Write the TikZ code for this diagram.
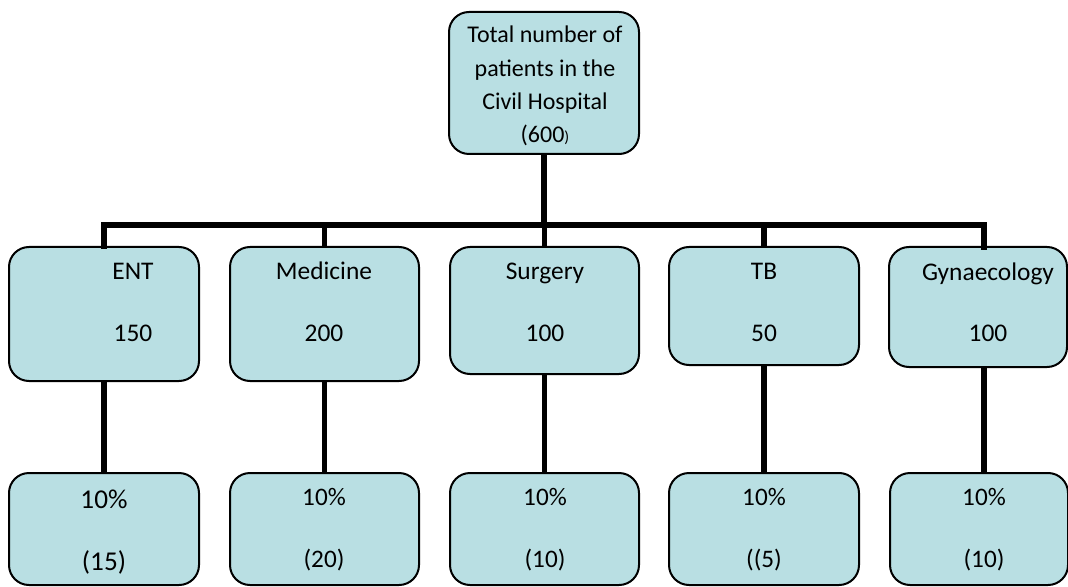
\documentclass[tikz,border=0pt]{standalone}
\usepackage{fontspec}
\setmainfont{Carlito}
\definecolor{boxfill}{HTML}{B9DFE3}
\begin{document}
\begin{tikzpicture}[x=0.5pt,y=-0.5pt,
  box/.style={draw=black,line width=1pt,fill=boxfill,rounded corners=10pt,inner sep=0pt},
  conn/.style={line width=2.6pt,line join=miter,line cap=rect},
  txt/.style={anchor=base,inner sep=0pt,font=\fontsize{12.7}{15}\selectfont},
  btxt/.style={anchor=base,inner sep=0pt,font=\fontsize{12.6}{15}\selectfont},
  ttxt/.style={anchor=base,inner sep=0pt,font=\fontsize{12}{14}\selectfont}]
\useasboundingbox (0,0) rectangle (1068,587);
% boxes
\node[box,minimum width=95pt,minimum height=71pt] (top) at (544,83) {};
\node[box,minimum width=95pt,minimum height=67pt] (ent) at (104,314) {};
\node[box,minimum width=94.5pt,minimum height=67pt] (med) at (324.5,314) {};
\node[box,minimum width=94.5pt,minimum height=63.5pt] (sur) at (544.5,310.5) {};
\node[box,minimum width=95pt,minimum height=59pt] (tb) at (764,306) {};
\node[box,minimum width=89pt,minimum height=60pt] (gyn) at (978,307) {};
\node[box,minimum width=95pt,minimum height=56pt] (entb) at (104,529) {};
\node[box,minimum width=94.5pt,minimum height=56pt] (medb) at (324.5,529) {};
\node[box,minimum width=94.5pt,minimum height=56pt] (surb) at (544.5,529) {};
\node[box,minimum width=95pt,minimum height=56pt] (tbb) at (764,529) {};
\node[box,minimum width=89pt,minimum height=56pt] (gynb) at (979,529) {};
% connectors
\coordinate (barL) at (104,225);
\coordinate (barR) at (984,225);
\coordinate (gynT) at (984,247);
\coordinate (gynB) at (984,367);
\coordinate (gynbT) at (984,473);
\draw[conn] (ent.north) -- (barL) -- (barR) -- (gynT);
\draw[conn,line cap=butt] (top.south) -- (top.south |- barL);
\draw[conn,line cap=butt] (med.north |- barL) -- (med.north);
\draw[conn,line cap=butt] (sur.north |- barL) -- (sur.north);
\draw[conn,line cap=butt] (tb.north |- barL) -- (tb.north);
\draw[conn,line cap=butt] (ent.south) -- (entb.north);
\draw[conn,line cap=butt] (med.south) -- (medb.north);
\draw[conn,line cap=butt] (sur.south) -- (surb.north);
\draw[conn,line cap=butt] (tb.south) -- (tbb.north);
\draw[conn,line cap=butt] (gynB) -- (gynbT);
% top text
\node[ttxt] (t1) at (545,43) {Total number of};
\node[ttxt] (t2) at (545,77) {patients in the};
\node[ttxt] (t3) at (545,110) {Civil Hospital};
\node[ttxt] (t4) at (545,143) {(600{\fontsize{8}{9}\selectfont )}};
% middle text
\node[txt] (ent1) at (133,279) {ENT};
\node[txt] (ent2) at (133,341) {150};
\node[txt] (med1) at (324,279) {Medicine};
\node[txt] (med2) at (324,341) {200};
\node[txt] (sur1) at (545,279) {Surgery};
\node[txt] (sur2) at (545,341) {100};
\node[txt] (tb1) at (764,279) {TB};
\node[txt] (tb2) at (764,341) {50};
\node[txt] (gyn1) at (988,280) {Gynaecology};
\node[txt] (gyn2) at (988,341) {100};
% bottom text
\node[btxt,font=\fontsize{13.6}{15}\selectfont] (entb1) at (104,508) {10\%};
\node[btxt,font=\fontsize{13.6}{15}\selectfont] (entb2) at (104,570) {(15)};
\node[btxt] (medb1) at (324,505) {10\%};
\node[btxt] (medb2) at (324,567) {(20)};
\node[btxt] (surb1) at (545,505) {10\%};
\node[btxt] (surb2) at (545,567) {(10)};
\node[btxt] (tbb1) at (764,505) {10\%};
\node[btxt] (tbb2) at (764,567) {((5)};
\node[btxt] (gynb1) at (984,505) {10\%};
\node[btxt] (gynb2) at (984,567) {(10)};
\end{tikzpicture}
\end{document}
